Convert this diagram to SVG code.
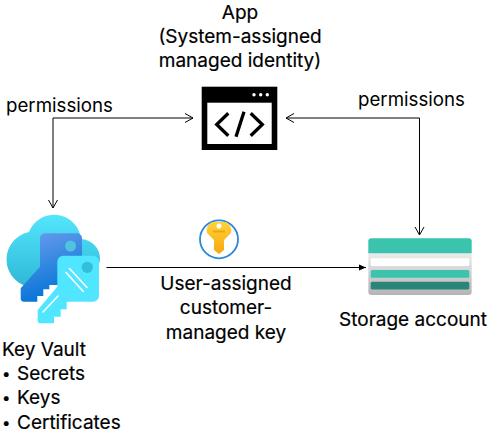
<svg xmlns="http://www.w3.org/2000/svg" width="494" height="445" viewBox="0 0 494 445">
<style>
text{font-family:Inter,"Open Sans","Liberation Sans",sans-serif;font-size:19px;fill:#000;stroke:#000;stroke-width:.2}
.c{text-anchor:middle}
.p{font-size:18.700px;stroke:none}
.b{font-size:15px}
.l{fill:none;stroke:#000;stroke-width:1}
.w{stroke:#fff;stroke-width:1.600;stroke-linecap:round;fill:none}
</style>
<defs>
<linearGradient id="cl" x1="0" y1="0" x2="0" y2="1"><stop offset="0" stop-color="#54e6fd"/><stop offset="1" stop-color="#2cb7d6"/></linearGradient>
<linearGradient id="dk" x1="0" y1="0" x2="0.3" y2="1"><stop offset="0" stop-color="#6a9ded"/><stop offset="1" stop-color="#0574d6"/></linearGradient>
<linearGradient id="gr" x1="0" y1="0" x2="0" y2="1"><stop offset="0" stop-color="#f0f0f0"/><stop offset="1" stop-color="#b5b5b5"/></linearGradient>
<linearGradient id="gd" x1="0" y1="0" x2="0" y2="1"><stop offset="0" stop-color="#ffd23c"/><stop offset="1" stop-color="#f7a80d"/></linearGradient>
<marker id="o" markerWidth="12" markerHeight="12" refX="9" refY="5" orient="auto-start-reverse" markerUnits="userSpaceOnUse"><path d="M1 0.500L9 5L1 9.500" fill="none" stroke="#000" stroke-width="1"/></marker>
<marker id="s" markerWidth="10" markerHeight="10" refX="7" refY="3.500" orient="auto" markerUnits="userSpaceOnUse"><path d="M0 0.500L7 3.500L0 6.500z" fill="#000"/></marker>
</defs>
<g id="connectors">
<path class="l" d="M193 118H53V208" marker-start="url(#o)" marker-end="url(#o)"/>
<path class="l" d="M286 118H419.500V235" marker-start="url(#o)" marker-end="url(#o)"/>
<path d="M106.500 267.500H366" fill="none" stroke="#000" stroke-width="1" marker-end="url(#s)"/>
</g>
<g id="app">
<text class="c" x="240" y="19">App</text>
<text class="c" x="240" y="43">(System-assigned</text>
<text class="c" x="240" y="67">managed identity)</text>
<rect x="201.700" y="86.700" width="75.600" height="63.300" fill="#000"/>
<rect x="207.300" y="102.700" width="64.400" height="41.300" fill="#fff"/>
<circle cx="254" cy="94.700" r="1.700" fill="#fff"/><circle cx="260.700" cy="94.700" r="1.700" fill="#fff"/><circle cx="267.300" cy="94.700" r="1.700" fill="#fff"/>
<path d="M228.300 113.300L216.700 124.500L228.300 135.700M244 111.700L236 136.700M250.700 113.300L262.300 124.500L250.700 135.700" fill="none" stroke="#000" stroke-width="3.300"/>
</g>
<g id="perm-left"><text class="p" x="6" y="112">permissions</text></g>
<g id="perm-right"><text class="p" x="358" y="106">permissions</text></g>
<g id="key-vault">
<path fill="url(#cl)" d="M29 232A27 27 0 0 1 81 239A20 20 0 0 1 100 258A20 20 0 0 1 80 278L40 287A25.500 25.500 0 0 1 29 232z"/>
<path fill="url(#dk)" d="M45 233.300H77A5 5 0 0 1 82 238.300V285H49.300V289.300H43.300V296H37.300V301.700H24A3 3 0 0 1 20.700 298.500V288.300L40 266.700V238.300A5 5 0 0 1 45 233.300z"/>
<circle cx="70.500" cy="246" r="5.500" fill="#4fc3e0"/>
<path fill="#50e6ff" d="M63.300 255.700H93A6 6 0 0 1 99 261.700V295A6 6 0 0 1 93 301.700H66.700V309.300H60.700V316.700H54V323.300H39.300L37.700 321.700V310L57.300 286.700V261.700A6 6 0 0 1 63.300 255.700z"/>
<circle cx="87.300" cy="267.300" r="5.600" fill="#32bedd"/>
<path class="w" d="M69.500 268.500L87 287.500M66 272.500L83.300 291.500M58 296L43 312"/>
<text x="2" y="355.500">Key Vault</text>
<text class="b" x="2" y="379">•</text><text x="17" y="380">Secrets</text>
<text class="b" x="2" y="403">•</text><text x="17" y="404">Keys</text>
<text class="b" x="2" y="427.500">•</text><text x="17" y="428.500">Certificates</text>
</g>
<g id="managed-key">
<circle cx="219" cy="239.300" r="19" fill="#fff" stroke="#2b88d8" stroke-width="1.800"/>
<path fill="url(#gd)" d="M212 222H226Q233 227 231 233L224 240V250L219 254L214 250V240L207 233Q205 227 212 222z"/>
<circle cx="219" cy="226" r="2.500" fill="#fff"/>
<rect x="213" y="230.500" width="12" height="2" fill="#f2a60c"/>
<text class="c" x="226" y="290">User-assigned</text>
<text class="c" x="226" y="314">customer-</text>
<text class="c" x="226" y="338.500">managed key</text>
</g>
<g id="storage">
<path fill="url(#gr)" d="M368.300 250H471.700V292A3 3 0 0 1 468.700 295H371.300A3 3 0 0 1 368.300 292z"/>
<path fill="#3bc4ad" d="M371.300 238.300H468.700A3 3 0 0 1 471.700 241.300V253.300H368.300V241.300A3 3 0 0 1 371.300 238.300z"/>
<rect x="370.700" y="258.300" width="98.600" height="7.700" rx="1.500" fill="#fff"/>
<rect x="370.700" y="270" width="98.600" height="7.700" rx="1.500" fill="#3bc4ad"/>
<rect x="370.700" y="281.700" width="98.600" height="7.700" rx="1.500" fill="#2a8577"/>
<text class="c" x="413" y="326">Storage account</text>
</g>
</svg>
